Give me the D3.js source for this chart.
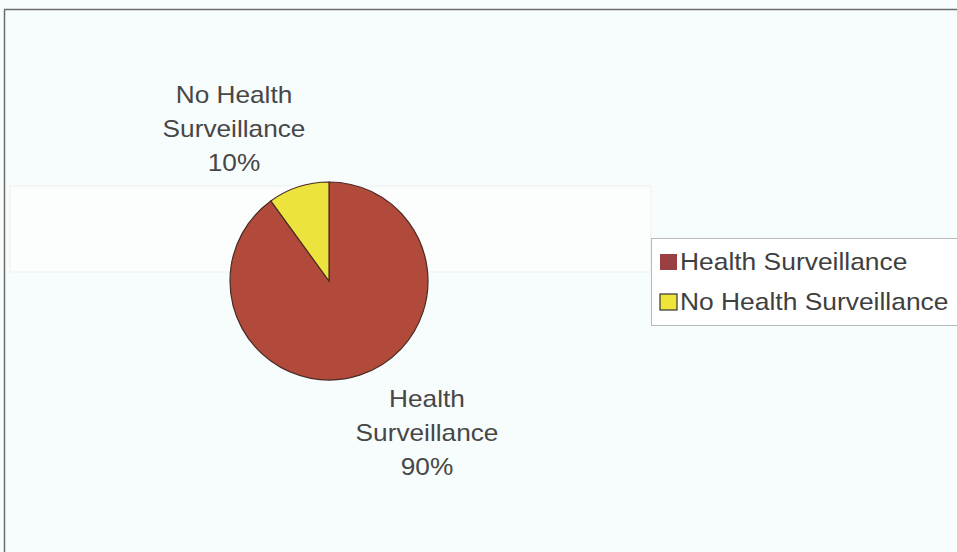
<!DOCTYPE html>
<html><head><meta charset="utf-8">
<script src="https://cdn.jsdelivr.net/npm/d3@7"></script>
<style>body{margin:0;background:#f7fcfc}svg{display:block}</style>
</head><body>
<svg id="c" width="957" height="552"></svg>
<script>
const categories = ["Health Surveillance", "No Health Surveillance"];
const values = [90, 10];
const labels = [["Health", "Surveillance", "90%"], ["No Health", "Surveillance", "10%"]];
const colors = ["#b14a3a", "#ece43c"];
const legendColors = ["#9a3f42", "#efe43a"];

const FONT = "Liberation Sans, Arial, sans-serif";
const svg = d3.select("#c");
svg.append("rect").attr("width", 957).attr("height", 552).attr("fill", "#f7fcfc");
// chart border (only top & left visible)
svg.append("line").attr("x1", 4.5).attr("x2", 4.5).attr("y1", 10).attr("y2", 552).attr("stroke", "#6b6b6b").attr("stroke-width", 1.5);
svg.append("line").attr("x1", 4).attr("x2", 957).attr("y1", 9.5).attr("y2", 9.5).attr("stroke", "#6b6b6b").attr("stroke-width", 1.5);
// faint scan band
svg.append("rect").attr("x", 10).attr("y", 186).attr("width", 641).attr("height", 86)
  .attr("fill", "#fcfefe").attr("stroke", "#eef0f0").attr("stroke-width", 1);

const cx = 329, cy = 281, r = 99;
const pie = d3.pie().sort(null).startAngle(0).endAngle(2 * Math.PI);
const arcs = pie(values);
const arc = d3.arc().innerRadius(0).outerRadius(r);
const g = svg.append("g").attr("transform", `translate(${cx},${cy})`);
g.selectAll("path").data(arcs).join("path")
  .attr("d", arc).attr("fill", (d, i) => colors[i])
  .attr("stroke", "#4a2a24").attr("stroke-width", 1.2);

const labelPos = [[427, 407], [234, 103]];
labels.forEach((lines, i) => {
  lines.forEach((s, k) => {
    svg.append("text")
      .attr("transform", `translate(${labelPos[i][0]},${labelPos[i][1] + k * 34}) scale(1.14,1)`)
      .attr("text-anchor", "middle").attr("font-family", FONT)
      .attr("font-size", 23).attr("fill", "#474747").text(s);
  });
});

// legend
const lg = svg.append("g");
lg.append("rect").attr("x", 651.5).attr("y", 238.5).attr("width", 310).attr("height", 87)
  .attr("fill", "#ffffff").attr("stroke", "#b8b8b8").attr("stroke-width", 1);
categories.forEach((c, i) => {
  const base = 270 + i * 40;
  lg.append("rect").attr("x", 660).attr("y", base - 16).attr("width", 17).attr("height", 16)
    .attr("fill", legendColors[i]).attr("stroke", i ? "#333" : "none").attr("stroke-width", 1.2);
  lg.append("text").attr("transform", `translate(680,${base}) scale(1.1,1)`)
    .attr("font-family", FONT).attr("font-size", 24).attr("fill", "#3f3f3f").text(c);
});
</script>
</body></html>
